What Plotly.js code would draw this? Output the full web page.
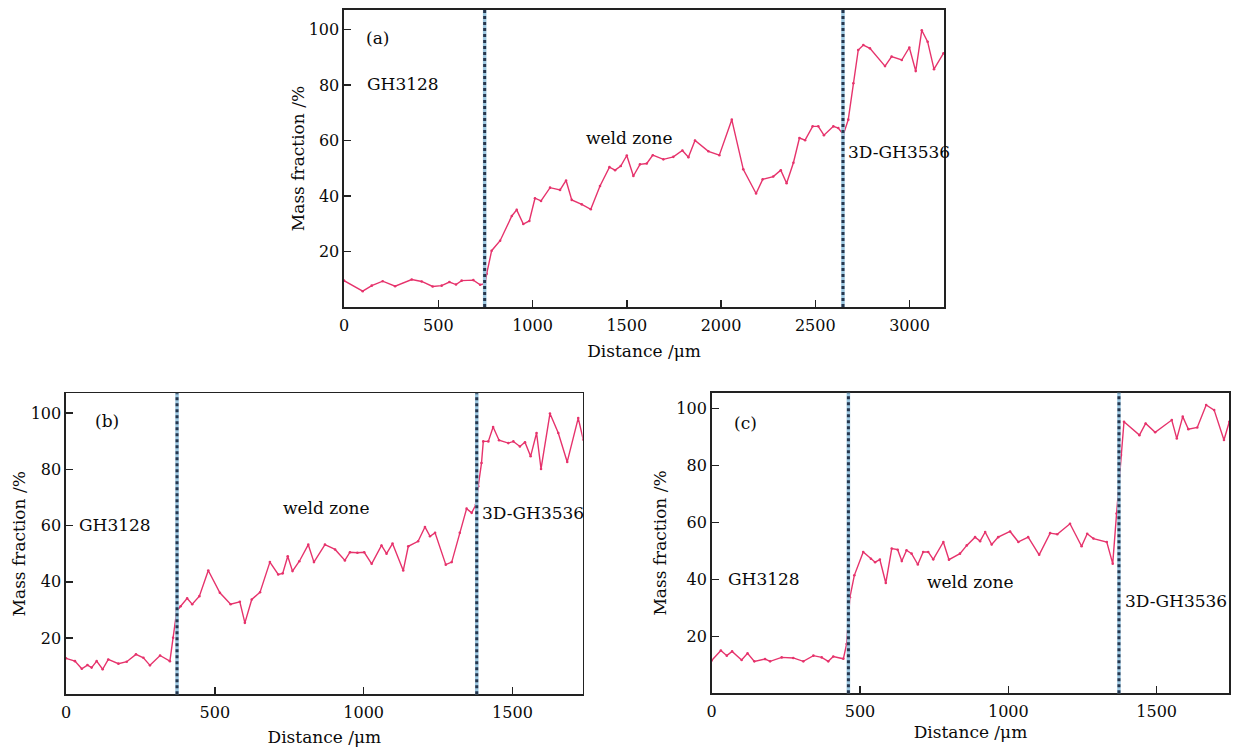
<!DOCTYPE html>
<html>
<head>
<meta charset="utf-8">
<script src="https://cdn.plot.ly/plotly-3.0.1.min.js"></script>
<style>html,body{margin:0;padding:0;background:#fff;}#chart{width:1234px;height:749px;}</style>
</head>
<body>
<div id="chart"></div>
<script>
// ---- data ----
const panelLabels = ["(a)", "(b)", "(c)"];
const zoneLabels = ["GH3128", "weld zone", "3D-GH3536"];
const xTitle = "Distance /μm";
const yTitle = "Mass fraction /%";
const yTicks = [20, 40, 60, 80, 100];
const xTicksA = [0, 500, 1000, 1500, 2000, 2500, 3000];
const xTicksBC = [0, 500, 1000, 1500];

const xA = [0,99,147,205,271,359,412,470,518,559,594,624,686,722,748,757,783,828,890,916,951,983,1013,1045,1093,1146,1178,1208,1261,1309,1358,1408,1438,1468,1500,1535,1570,1606,1638,1694,1747,1795,1827,1862,1933,1991,2057,2118,2186,2221,2277,2317,2348,2384,2416,2446,2486,2516,2546,2596,2622,2649,2675,2702,2728,2755,2790,2870,2905,2959,2999,3033,3065,3096,3130,3180];
const yA = [9.5,5.7,7.7,9.3,7.5,9.9,9.2,7.4,7.7,9.0,8.1,9.5,9.7,8.0,8.4,12,20.3,23.9,32.8,35,29.9,31,39.2,38.2,43,42.2,45.6,38.6,37,35.2,43.6,50.4,49.3,50.8,54.6,47.2,51.4,51.7,54.7,53.2,54.1,56.4,54,60,56.1,54.7,67.5,49.6,40.9,46,47,49.3,44.6,52,60.9,60.1,65.1,65.1,61.9,65.1,64.5,62.1,67.5,80.6,92.6,94.4,93.2,86.8,90.2,89,93.5,85,99.7,95.6,85.7,91.4];

const xB = [0,30,53,72,86,103,123,142,176,204,235,260,282,316,349,360,372,385,407,424,448,478,517,553,584,601,624,652,685,713,728,745,761,784,814,833,870,904,937,954,979,1002,1027,1060,1077,1097,1133,1150,1183,1206,1223,1240,1276,1296,1323,1346,1363,1377,1385,1396,1402,1419,1435,1455,1486,1503,1525,1542,1561,1581,1596,1626,1654,1684,1721,1738];
const yB = [12.8,11.8,9.1,10.4,9.5,11.8,8.9,12.4,10.9,11.6,14.2,13,10.3,13.8,11.8,20.1,29.6,31.3,34.1,32,34.9,44,36.1,32,32.9,25.4,33.7,36.3,47,42.6,43,49.1,43.8,47.3,53.2,47,53.2,51.5,47.6,50.5,50.3,50.5,46.4,52.9,50,53.6,44,52.6,54.4,59.5,56.2,57.4,46.1,47,57.4,66,64.5,67.4,74,82.2,89.9,89.9,95,90.3,89.3,89.9,88.1,89.6,84.6,92.9,80.1,99.8,92.9,82.6,98.2,90.5];

const xC = [0,31,51,69,101,121,144,180,197,236,275,309,343,371,393,410,444,455,466,481,511,537,551,567,587,607,627,641,657,674,695,713,730,747,781,800,837,860,888,905,922,944,966,1006,1034,1067,1104,1141,1165,1208,1247,1266,1287,1332,1352,1365,1380,1390,1442,1463,1495,1551,1568,1588,1607,1637,1667,1694,1727,1745];
const yC = [11.5,15,13.2,14.7,11.7,14,11.2,12,11.2,12.6,12.4,11.2,13.2,12.6,11.2,12.9,12.1,17.3,33.7,41.4,49.6,47.2,46,46.9,38.7,50.8,50.4,46.4,50.2,49,45.2,49.6,49.6,47,53.1,46.9,49,51.9,54.8,53.4,56.6,52.2,54.8,56.8,53.1,54.8,48.6,56.2,55.8,59.5,51.6,56,54.3,53.1,45.5,63.1,83.6,95.3,90.6,94.7,91.6,95.9,89.4,97.1,92.7,93.3,101.2,99.4,88.9,95.3];

const boundA = [746, 2647];
const boundB = [373, 1380];
const boundC = [461, 1373];

// ---- styles ----
const FONT = "DejaVu Serif, Liberation Serif, serif";
const LINE_COLOR = "#e6336c";
const TXT = "#0a0a0a";

function curve(x, y, xa, ya) {
  return {x: x, y: y, xaxis: xa, yaxis: ya, type: "scatter", mode: "lines+markers",
          line: {color: LINE_COLOR, width: 1.4}, marker: {color: LINE_COLOR, size: 2.6},
          hoverinfo: "skip"};
}
const traces = [curve(xA, yA, "x", "y"), curve(xB, yB, "x2", "y2"), curve(xC, yC, "x3", "y3")];

function xAxis(domain, range, ticks, anchor, standoff) {
  return {domain: domain, range: range, anchor: anchor, tickvals: ticks, ticks: "inside", ticklen: 7,
          tickwidth: 1.5, tickcolor: "#222", showline: true, mirror: true, linecolor: "#222", linewidth: 1.6,
          showgrid: false, zeroline: false, ticklabelstandoff: 3,
          tickfont: {family: FONT, size: 16, color: TXT},
          title: {text: xTitle, font: {family: FONT, size: 17, color: TXT}, standoff: standoff}};
}
function yAxis(domain, range, anchor, standoff) {
  return {domain: domain, range: range, anchor: anchor, tickvals: yTicks, ticks: "inside", ticklen: 7,
          tickwidth: 1.5, tickcolor: "#222", showline: true, mirror: true, linecolor: "#222", linewidth: 1.6,
          showgrid: false, zeroline: false, tickfont: {family: FONT, size: 16, color: TXT},
          title: {text: yTitle, font: {family: FONT, size: 17, color: TXT}, standoff: standoff}};
}

const shapes = [];
function boundary(xv, xref, yref) {
  shapes.push({type: "line", xref: xref, yref: yref + " domain", x0: xv, x1: xv, y0: 0, y1: 1,
               line: {color: "#9cc7e0", width: 3.5}});
  shapes.push({type: "line", xref: xref, yref: yref + " domain", x0: xv, x1: xv, y0: 0, y1: 1,
               line: {color: "#26364d", width: 3, dash: "dot"}});
}
boundA.forEach(v => boundary(v, "x", "y"));
boundB.forEach(v => boundary(v, "x2", "y2"));
boundC.forEach(v => boundary(v, "x3", "y3"));

function ann(text, x, y, xref, yref, xanchor) {
  return {text: text, x: x, y: y, xref: xref, yref: yref, xanchor: xanchor, yanchor: "middle",
          showarrow: false, font: {family: FONT, size: 17, color: TXT}};
}
const annotations = [
  ann(panelLabels[0], 106, 97, "x", "y", "left"),
  ann(zoneLabels[0], 111, 80.4, "x", "y", "left"),
  ann(zoneLabels[1], 1515, 61, "x", "y", "center"),
  ann(zoneLabels[2], 2663, 56, "x", "y", "left"),
  ann(panelLabels[1], 91, 97, "x2", "y2", "left"),
  ann(zoneLabels[0], 36, 60.3, "x2", "y2", "left"),
  ann(zoneLabels[1], 876, 66.3, "x2", "y2", "center"),
  ann(zoneLabels[2], 1391, 64.5, "x2", "y2", "left"),
  ann(panelLabels[2], 67, 94.7, "x3", "y3", "left"),
  ann(zoneLabels[0], 47, 40.2, "x3", "y3", "left"),
  ann(zoneLabels[1], 871, 39, "x3", "y3", "center"),
  ann(zoneLabels[2], 1386, 32.3, "x3", "y3", "left")
];

const layout = {
  width: 1234, height: 749, margin: {l: 0, r: 0, t: 0, b: 0},
  paper_bgcolor: "#fff", plot_bgcolor: "#fff", showlegend: false,
  font: {family: FONT, size: 16, color: TXT},
  xaxis: xAxis([0.2788, 0.7650], [0, 3183], xTicksA, "y", 11),
  yaxis: yAxis([0.5901, 0.9866], [0, 107], "x", 0),
  xaxis2: xAxis([0.0535, 0.4722], [0, 1736], xTicksBC, "y2", 10),
  yaxis2: yAxis([0.0730, 0.4749], [0, 107], "x2", 1),
  xaxis3: xAxis([0.5767, 0.9962], [0, 1745], xTicksBC, "y3", 6),
  yaxis3: yAxis([0.0744, 0.4757], [0, 105.5], "x3", 5),
  shapes: shapes,
  annotations: annotations
};

Plotly.newPlot("chart", traces, layout, {displayModeBar: false, staticPlot: true});
</script>
</body>
</html>
